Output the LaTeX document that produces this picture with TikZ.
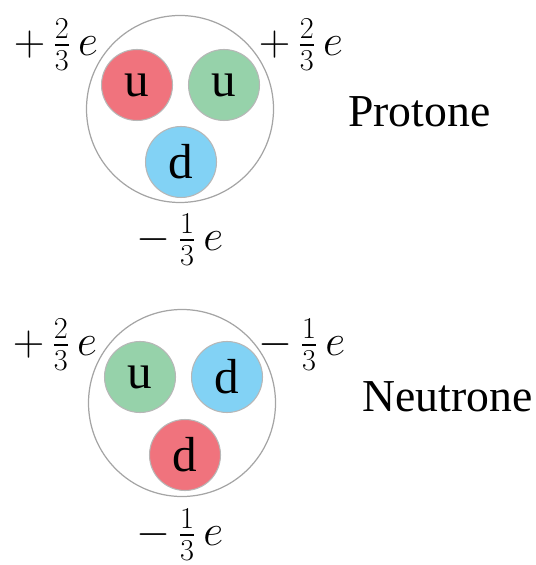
\documentclass[tikz,border=0pt]{standalone}
\usepackage{amsmath}
\usepackage{fontspec}
\setmainfont{Liberation Serif}
\usepackage{tikz}
\usetikzlibrary{positioning}
\definecolor{quarkred}{RGB}{240, 115, 125}
\definecolor{quarkgreen}{RGB}{150, 210, 170}
\definecolor{quarkblue}{RGB}{130, 210, 245}
\definecolor{rimgray}{RGB}{165, 165, 165}

\begin{document}
\begin{tikzpicture}[
    hadron/.style={circle, draw=rimgray, line width=0.7pt, minimum size=3.74cm, inner sep=0pt},
    quark/.style={circle, draw=rimgray!80, line width=0.6pt, minimum size=1.42cm, inner sep=0pt,
        font=\fontsize{28}{30}\selectfont},
    charge/.style={font=\fontsize{26}{30}\selectfont, inner sep=0pt},
    hadronlabel/.style={font=\fontsize{26}{30}\selectfont, inner sep=0pt}
]
    \useasboundingbox (0,0) rectangle (10.7,-11.3);

    % protone
    \node[hadron] (p) at (3.6,-2.18) {};
    \node[quark, fill=quarkred] (pu1) at (2.74,-1.70) {u};
    \node[quark, fill=quarkgreen] (pu2) at (4.48,-1.70) {u};
    \node[quark, fill=quarkblue] (pd) at (3.62,-3.24) {d};
    \node[charge] (pc1) at (1.12,-0.90) {$+\,\tfrac{2}{3}\,e$};
    \node[charge] (pc2) at (6.02,-0.90) {$+\,\tfrac{2}{3}\,e$};
    \node[charge] (pc3) at (3.6,-4.80) {$-\,\tfrac{1}{3}\,e$};
    \node[hadronlabel, anchor=west] (pname) at (6.96,-2.24) {Protone};

    % neutrone
    \node[hadron] (n) at (3.64,-8.06) {};
    \node[quark, fill=quarkgreen] (nu) at (2.80,-7.54) {u};
    \node[quark, fill=quarkblue] (nd1) at (4.54,-7.54) {d};
    \node[quark, fill=quarkred] (nd2) at (3.70,-9.10) {d};
    \node[charge] (nc1) at (1.10,-6.90) {$+\,\tfrac{2}{3}\,e$};
    \node[charge] (nc2) at (6.04,-6.90) {$-\,\tfrac{1}{3}\,e$};
    \node[charge] (nc3) at (3.6,-10.70) {$-\,\tfrac{1}{3}\,e$};
    \node[hadronlabel, anchor=west] (nname) at (7.24,-7.94) {Neutrone};
\end{tikzpicture}
\end{document}
